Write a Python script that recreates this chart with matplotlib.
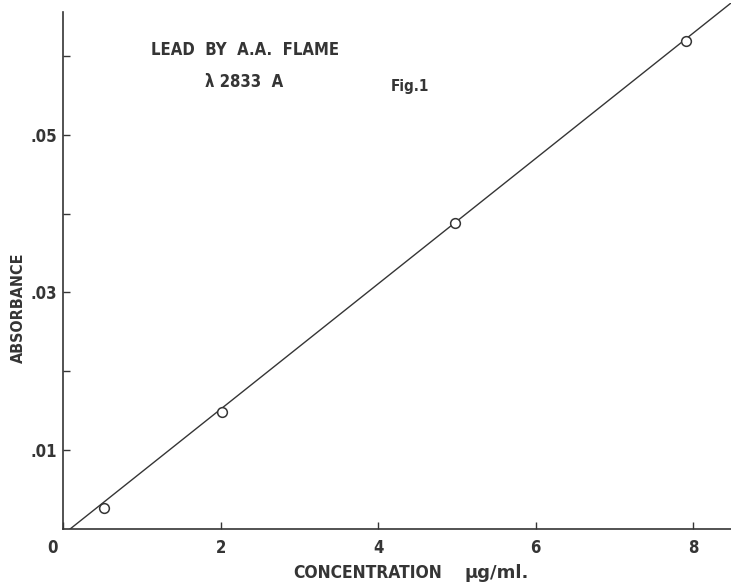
import numpy as np
import matplotlib.pyplot as plt
import matplotlib.transforms as mtransforms

# 浓度 (ug/ml) 和吸光度读数
conc = [0.52, 2.02, 4.97, 7.91]
absorb = [0.0027, 0.0148, 0.0388, 0.0619]
# 拟合直线两端
fit_x = [0.09, 8.48]
fit_y = [0.0, 0.0667]
x_ticks = [0, 2, 4, 6, 8]
y_ticks = [0.01, 0.03, 0.05]
y_tick_labels = ['.01', '.03', '.05']
y_minor = [0.02, 0.04, 0.06]

ink = '#353535'
fnt = ['DejaVu Sans']
st = 'condensed'

fig = plt.figure(figsize=(7.31, 5.86), dpi=100)
ax = fig.add_axes([63 / 731, 57 / 586, 668 / 731, 526 / 586])
ax.plot(fit_x, fit_y, color=ink, linewidth=1.0)
ax.plot(conc, absorb, 'o', markersize=7, markerfacecolor='white',
        markeredgecolor=ink, markeredgewidth=1.1)

ax.set_xlim(0, 8.48)
ax.set_ylim(0, 0.0667)
ax.spines['right'].set_color('none')
ax.spines['top'].set_color('none')
ax.spines['left'].set_bounds(0, 0.0656)
for s in ['left', 'bottom']:
    ax.spines[s].set_color(ink)
    ax.spines[s].set_linewidth(1.2)

ax.set_xticks(x_ticks)
ax.set_xticklabels([str(t) for t in x_ticks])
ax.set_yticks(y_ticks)
ax.set_yticklabels(y_tick_labels)
ax.set_yticks(y_minor, minor=True)
ax.tick_params(direction='in', length=5, width=1, color=ink, labelcolor=ink,
               labelsize=12, pad=4)
ax.tick_params(axis='x', pad=7)
ax.tick_params(axis='y', which='minor', direction='in', length=5, width=1, color=ink)
for lab in ax.get_xticklabels() + ax.get_yticklabels():
    lab.set_family(fnt)
    lab.set_stretch(st)
    lab.set_weight('bold')
# 原点的 0 往左挪一点
lab0 = ax.get_xticklabels()[0]
lab0.set_transform(lab0.get_transform() + mtransforms.ScaledTranslation(-0.11, 0, fig.dpi_scale_trans))

# 坐标轴标签
fig.text(18 / 731, 1 - 308 / 586, 'ABSORBANCE', rotation=90, ha='center', va='center',
         fontsize=11.5, fontweight='bold', family=fnt, stretch=st, color=ink)
fig.text(293 / 731, 1 - 578 / 586, 'CONCENTRATION', ha='left', va='baseline',
         fontsize=12.5, fontweight='bold', family=fnt, stretch=st, color=ink)
fig.text(464 / 731, 1 - 578 / 586, '\u03bcg/ml.', ha='left', va='baseline',
         fontsize=13, fontweight='bold', family=fnt, color=ink)

# 图内说明文字
fig.text(245 / 731, 1 - 50 / 586, 'LEAD  BY  A.A.  FLAME', ha='center', va='center',
         fontsize=12, fontweight='bold', family=fnt, stretch=st, color=ink)
fig.text(244 / 731, 1 - 82 / 586, '\u03bb 2833  A', ha='center', va='center',
         fontsize=12, fontweight='bold', family=fnt, stretch=st, color=ink)
fig.text(410 / 731, 1 - 86 / 586, 'Fig.1', ha='center', va='center',
         fontsize=11, fontweight='bold', family=fnt, stretch=st, color=ink)

plt.savefig('out.png', dpi=100)
